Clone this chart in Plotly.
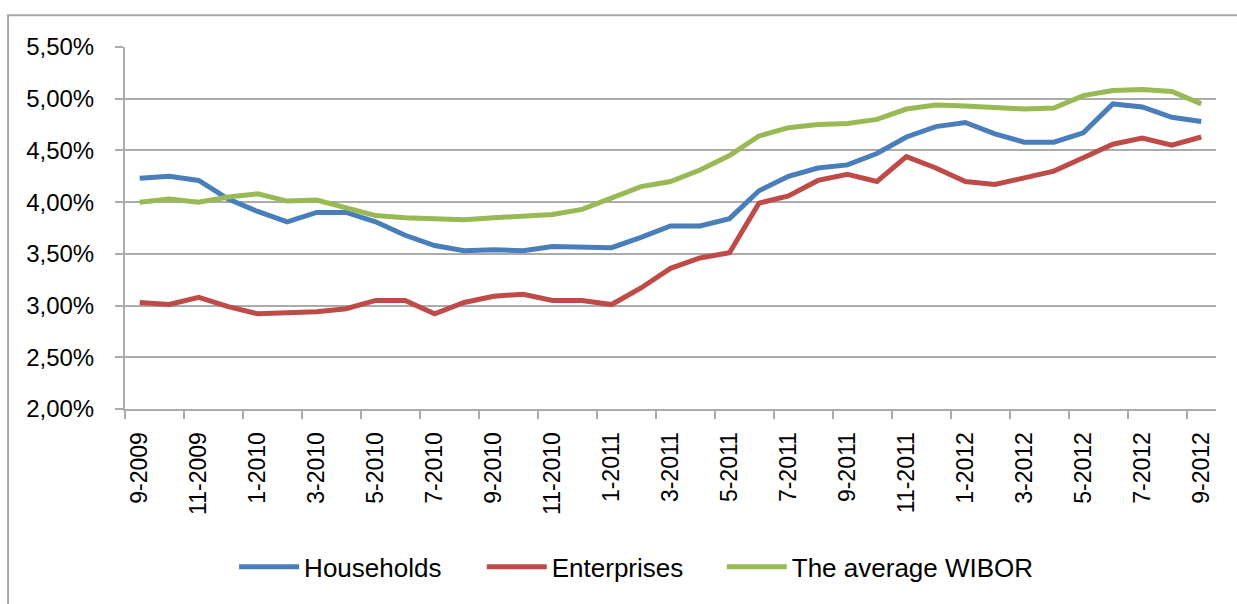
import plotly.graph_objects as go

# Monthly observation labels, September 2009 through September 2012
months = [
    "9-2009", "10-2009", "11-2009", "12-2009",
    "1-2010", "2-2010", "3-2010", "4-2010", "5-2010", "6-2010",
    "7-2010", "8-2010", "9-2010", "10-2010", "11-2010", "12-2010",
    "1-2011", "2-2011", "3-2011", "4-2011", "5-2011", "6-2011",
    "7-2011", "8-2011", "9-2011", "10-2011", "11-2011", "12-2011",
    "1-2012", "2-2012", "3-2012", "4-2012", "5-2012", "6-2012",
    "7-2012", "8-2012", "9-2012",
]

# Interest rates, in percent
households = [
    4.23, 4.25, 4.21, 4.03, 3.91, 3.81, 3.90, 3.90, 3.81, 3.68,
    3.58, 3.53, 3.54, 3.53, 3.57, 3.56, 3.56, 3.66, 3.77, 3.77,
    3.84, 4.11, 4.25, 4.33, 4.36, 4.47, 4.63, 4.73, 4.77, 4.66,
    4.58, 4.58, 4.67, 4.95, 4.92, 4.82, 4.78,
]
enterprises = [
    3.03, 3.01, 3.08, 2.99, 2.92, 2.93, 2.94, 2.97, 3.05, 3.05,
    2.92, 3.03, 3.09, 3.11, 3.05, 3.05, 3.01, 3.17, 3.36, 3.46,
    3.51, 3.99, 4.06, 4.21, 4.27, 4.20, 4.44, 4.33, 4.20, 4.17,
    4.23, 4.30, 4.43, 4.56, 4.62, 4.55, 4.63,
]
wibor = [
    4.00, 4.03, 4.00, 4.05, 4.08, 4.01, 4.02, 3.95, 3.87, 3.85,
    3.84, 3.83, 3.85, 3.87, 3.88, 3.93, 4.04, 4.15, 4.20, 4.31,
    4.45, 4.64, 4.72, 4.75, 4.76, 4.80, 4.90, 4.94, 4.93, 4.92,
    4.90, 4.91, 5.03, 5.08, 5.09, 5.07, 4.95,
]

series_names = ["Households", "Enterprises", "The average WIBOR"]
series_colors = ["#4A7EBB", "#BE4B48", "#98B954"]
legend_ids = ["legend", "legend2", "legend3"]
legend_x = [0.100, 0.327, 0.547]

idx = list(range(len(months)))
label_idx = idx[::2]
label_text = months[::2]

FONT = "Liberation Sans, Arial, sans-serif"
GRID = "#ABABAB"

fig = go.Figure()
for name, vals, color, lg in zip(series_names, [households, enterprises, wibor],
                                 series_colors, legend_ids):
    fig.add_trace(go.Scatter(
        x=idx, y=vals, name=name, mode="lines", legend=lg,
        line=dict(color=color, width=5, shape="linear"),
        hoverinfo="x+y+name",
    ))

legend_style = dict(
    orientation="h", xanchor="left", y=-0.436, yanchor="middle",
    font=dict(family=FONT, size=26, color="black"),
    itemwidth=60, bgcolor="rgba(0,0,0,0)",
)

fig.update_layout(
    width=1237, height=604,
    margin=dict(l=125, r=21, t=47, b=195),
    paper_bgcolor="white", plot_bgcolor="white",
    separators=", ",
    font=dict(family=FONT, size=23, color="black"),
    showlegend=True,
    legend=dict(x=legend_x[0], **legend_style),
    legend2=dict(x=legend_x[1], **legend_style),
    legend3=dict(x=legend_x[2], **legend_style),
    shapes=[dict(
        type="rect", xref="paper", yref="paper",
        x0=-0.1072, x1=1.03, y0=-0.56, y1=1.088,
        line=dict(color="#A6A6A6", width=2), fillcolor="rgba(0,0,0,0)",
        layer="below",
    )],
)

fig.update_xaxes(
    range=[-0.5, len(months) - 0.5],
    tickmode="array", tickvals=label_idx, ticktext=label_text,
    tickangle=-90, ticks="", ticklabelstandoff=12,
    tickfont=dict(family=FONT, size=23, color="black"),
    showgrid=False, zeroline=False,
    showline=True, linecolor=GRID, linewidth=2,
    minor=dict(
        tickmode="array", tickvals=[i - 0.5 for i in label_idx],
        ticks="outside", ticklen=8, tickcolor=GRID, tickwidth=2, showgrid=False,
    ),
)
fig.update_yaxes(
    range=[2.0, 5.5], dtick=0.5, tick0=2.0,
    tickformat=".2f", ticksuffix="%",
    ticks="outside", ticklen=8, tickcolor=GRID, tickwidth=2,
    ticklabelstandoff=16,
    tickfont=dict(family=FONT, size=24, color="black"),
    showgrid=True, gridcolor=GRID, gridwidth=2,
    zeroline=False, showline=True, linecolor=GRID, linewidth=2,
)

fig.write_html("out.html")
